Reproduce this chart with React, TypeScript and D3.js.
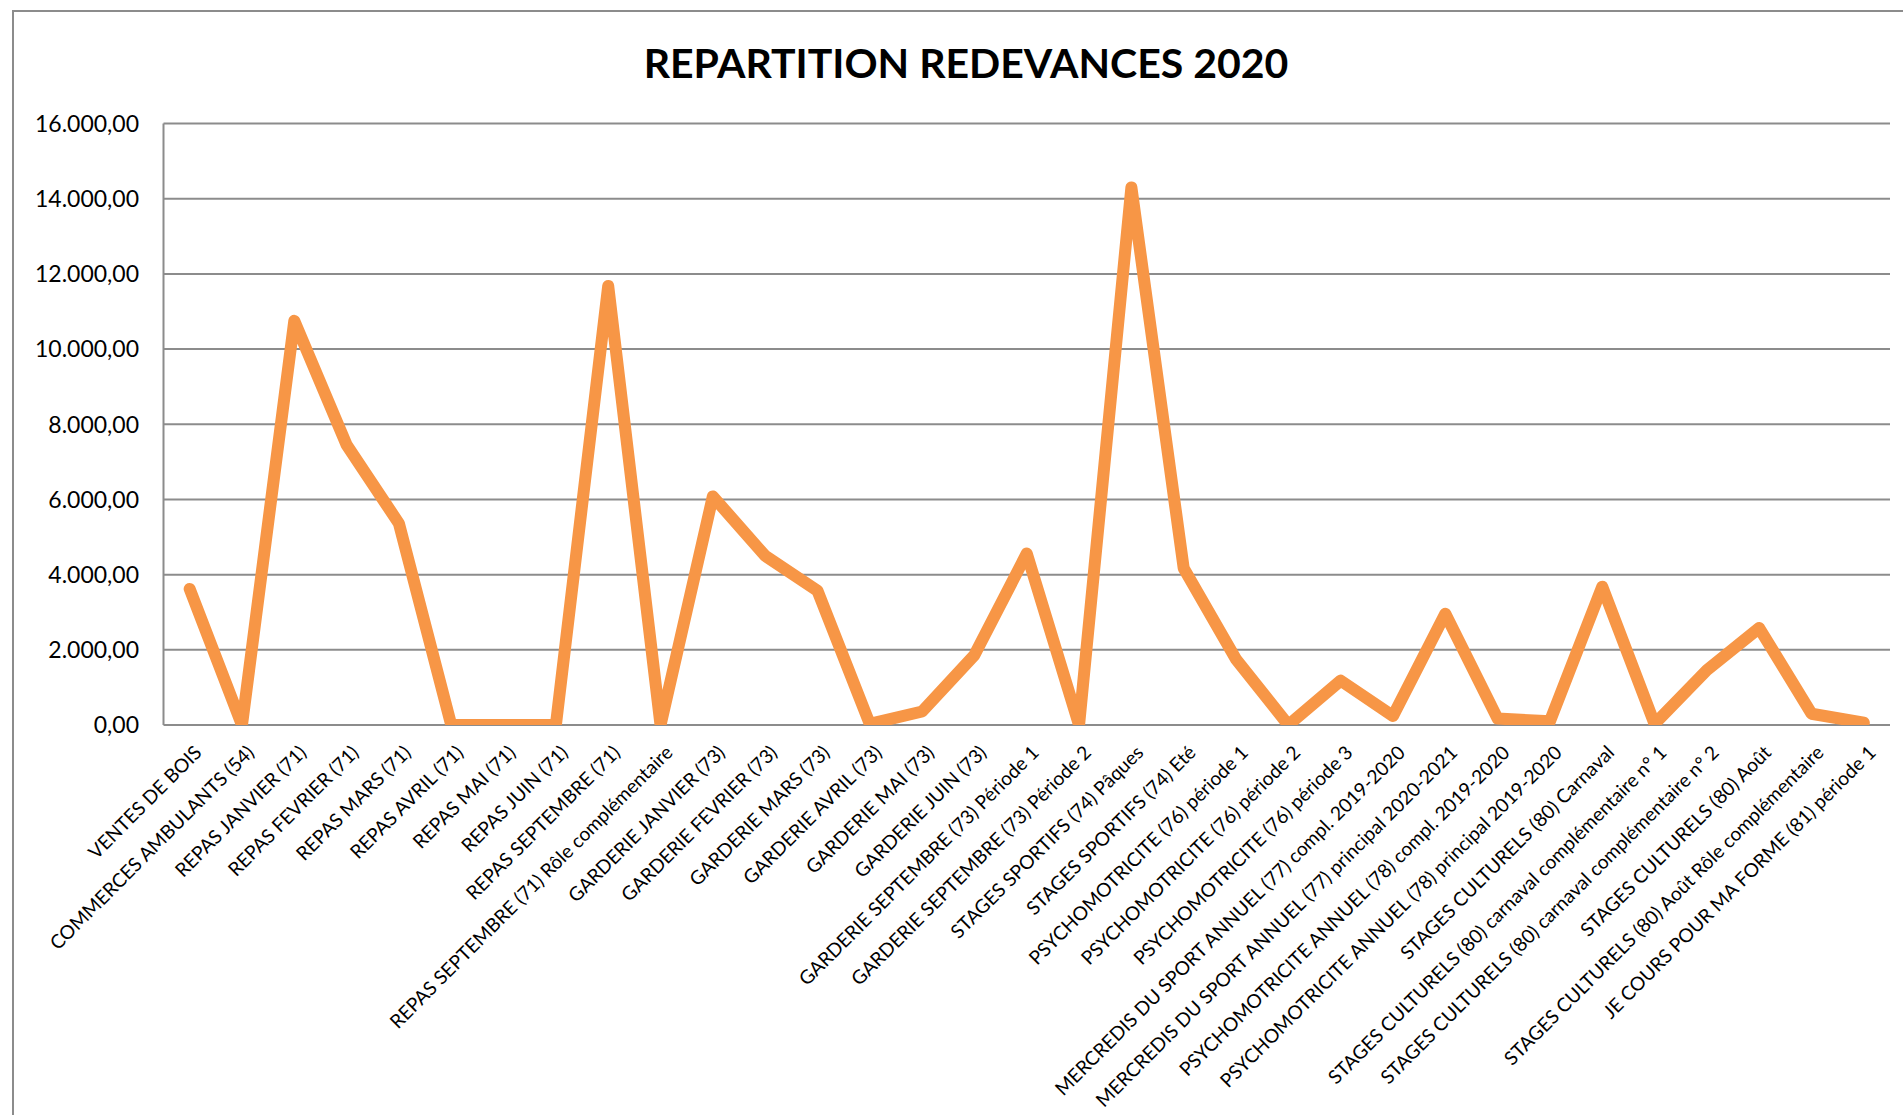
import React from "react";
import * as d3 from "d3";

const TITLE = "REPARTITION REDEVANCES 2020";

const categories: string[] = [
  "VENTES DE BOIS",
  "COMMERCES AMBULANTS (54)",
  "REPAS JANVIER (71)",
  "REPAS FEVRIER (71)",
  "REPAS MARS (71)",
  "REPAS AVRIL (71)",
  "REPAS MAI (71)",
  "REPAS JUIN (71)",
  "REPAS SEPTEMBRE (71)",
  "REPAS SEPTEMBRE (71) Rôle complémentaire",
  "GARDERIE JANVIER (73)",
  "GARDERIE FEVRIER (73)",
  "GARDERIE MARS (73)",
  "GARDERIE AVRIL (73)",
  "GARDERIE MAI (73)",
  "GARDERIE JUIN (73)",
  "GARDERIE SEPTEMBRE (73) Période 1",
  "GARDERIE SEPTEMBRE (73) Période 2",
  "STAGES SPORTIFS (74) Pâques",
  "STAGES SPORTIFS (74) Eté",
  "PSYCHOMOTRICITE (76) période 1",
  "PSYCHOMOTRICITE (76) période 2",
  "PSYCHOMOTRICITE (76) période 3",
  "MERCREDIS DU SPORT ANNUEL (77) compl. 2019-2020",
  "MERCREDIS DU SPORT ANNUEL (77) principal 2020-2021",
  "PSYCHOMOTRICITE ANNUEL (78) compl. 2019-2020",
  "PSYCHOMOTRICITE ANNUEL (78) principal 2019-2020",
  "STAGES CULTURELS (80) Carnaval",
  "STAGES CULTURELS (80) carnaval complémentaire n° 1",
  "STAGES CULTURELS (80) carnaval complémentaire n° 2",
  "STAGES CULTURELS (80) Août",
  "STAGES CULTURELS (80) Août Rôle complémentaire",
  "JE COURS POUR MA FORME (81) période 1",
];

const values: number[] = [
  3620, 0, 10750, 7450, 5360, 0, 0, 0, 11680, 0,
  6080, 4500, 3570, 30, 360, 1860, 4560, 0, 14300, 4170,
  1750, 0, 1180, 240, 2960, 170, 100, 3680, 30, 1460,
  2580, 300, 60,
];

const yTicks: number[] = [0, 2000, 4000, 6000, 8000, 10000, 12000, 14000, 16000];

const W = 1903;
const H = 1115;
const PLOT_L = 163.5;
const PLOT_R = 1890;
const PLOT_T = 123.5;
const PLOT_B = 725;

const FONT = "Lato, 'Open Sans', sans-serif";

const fmt = (v: number) => {
  const s = d3.format(",.2f")(v);
  return s.replace(/,/g, "#").replace(".", ",").replace(/#/g, ".");
};

export default function App() {
  const x = d3
    .scalePoint<string>()
    .domain(categories)
    .range([PLOT_L, PLOT_R])
    .padding(0.5);
  const y = d3.scaleLinear().domain([0, 16000]).range([PLOT_B, PLOT_T]);

  const line = d3
    .line<number>()
    .x((_, i) => x(categories[i]) as number)
    .y((d) => y(d));

  return (
    <svg
      width={W}
      height={H}
      style={{ position: "absolute", left: 0, top: 0, background: "#fff" }}
      fontFamily={FONT}
    >
      <rect x={0} y={0} width={W} height={H} fill="#fff" />
      <rect
        x={13}
        y={11}
        width={W + 100}
        height={H + 100}
        fill="none"
        stroke="#8c8c8c"
        strokeWidth={2}
      />
      <text
        x={966}
        y={77.5}
        textAnchor="middle"
        fontSize={41}
        fontWeight={700}
        fill="#000"
      >
        {TITLE}
      </text>
      <defs>
        <clipPath id="plotclip">
          <rect x={PLOT_L} y={0} width={PLOT_R - PLOT_L + 20} height={PLOT_B} />
        </clipPath>
      </defs>
      {yTicks.map((t) => (
        <g key={t}>
          <line
            x1={PLOT_L}
            x2={PLOT_R}
            y1={y(t)}
            y2={y(t)}
            stroke="#8c8c8c"
            strokeWidth={2}
          />
          <text
            x={139}
            y={y(t)}
            dy="0.36em"
            textAnchor="end"
            fontSize={23}
            fill="#000"
          >
            {fmt(t)}
          </text>
        </g>
      ))}
      <line
        x1={PLOT_L}
        x2={PLOT_L}
        y1={PLOT_T}
        y2={PLOT_B}
        stroke="#8c8c8c"
        strokeWidth={2}
      />
      <path
        d={line(values) || ""}
        fill="none"
        stroke="#F79646"
        strokeWidth={12}
        strokeLinejoin="round"
        strokeLinecap="round"
        clipPath="url(#plotclip)"
      />
      {categories.map((c) => (
        <text
          key={c}
          transform={`translate(${(x(c) as number) + 3.5},${PLOT_B + 19}) rotate(-45)`}
          textAnchor="end"
          dy="0.72em"
          fontSize={19.2}
          fill="#000"
        >
          {c}
        </text>
      ))}
    </svg>
  );
}
